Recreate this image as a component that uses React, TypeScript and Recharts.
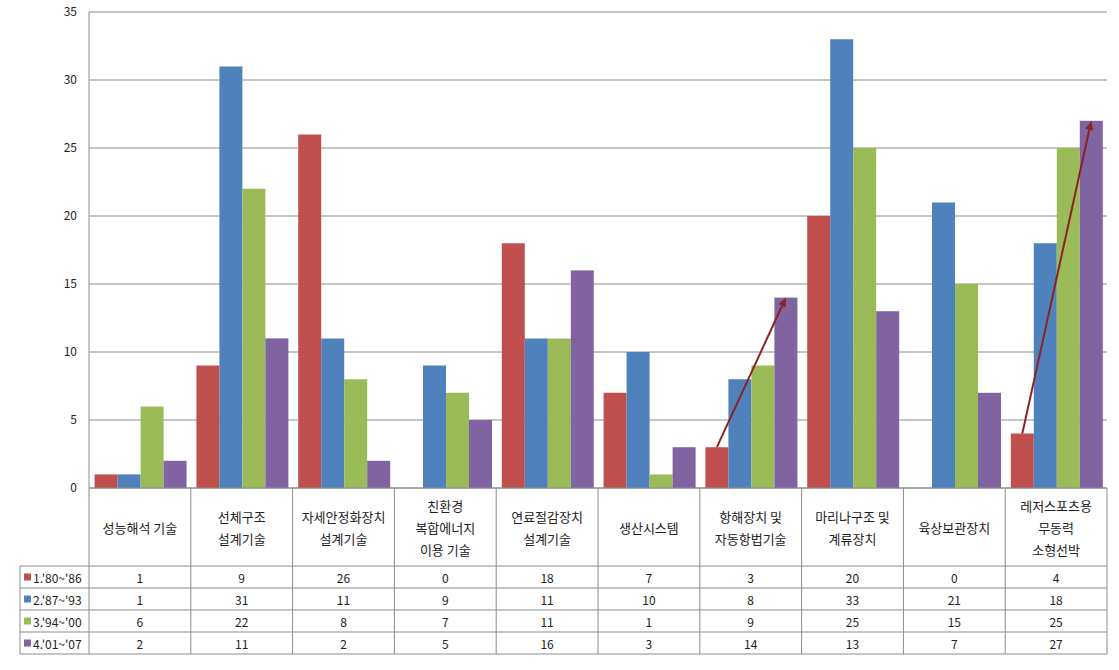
import { BarChart, Bar, XAxis, YAxis, CartesianGrid } from 'recharts';

const CATEGORIES = [
  '성능해석 기술',
  '선체구조\n설계기술',
  '자세안정화장치\n설계기술',
  '친환경\n복합에너지\n이용 기술',
  '연료절감장치\n설계기술',
  '생산시스템',
  '항해장치 및\n자동항법기술',
  '마리나구조 및\n계류장치',
  '육상보관장치',
  '레저스포츠용\n무동력\n소형선박',
];

const SERIES_NAMES = ["1.'80~'86", "2.'87~'93", "3.'94~'00", "4.'01~'07"];
const PERIOD_1 = [1, 9, 26, 0, 18, 7, 3, 20, 0, 4];
const PERIOD_2 = [1, 31, 11, 9, 11, 10, 8, 33, 21, 18];
const PERIOD_3 = [6, 22, 8, 7, 11, 1, 9, 25, 15, 25];
const PERIOD_4 = [2, 11, 2, 5, 16, 3, 14, 13, 7, 27];
const Y_TICKS = [0, 5, 10, 15, 20, 25, 30, 35];
// categories where an arrow runs from the first period bar to the last one
const ARROW_CATEGORIES = [6, 9];

const KEYS = ['p1', 'p2', 'p3', 'p4'];
const COLORS = ['#C0504D', '#4F81BD', '#9BBB59', '#8064A2'];
const SERIES_VALUES = [PERIOD_1, PERIOD_2, PERIOD_3, PERIOD_4];

const data = CATEGORIES.map((name, i) => ({
  name,
  p1: PERIOD_1[i],
  p2: PERIOD_2[i],
  p3: PERIOD_3[i],
  p4: PERIOD_4[i],
}));

const W = 1119;
const H = 670;
const MARGIN = { top: 12, right: 12, left: 0, bottom: 16 };
const Y_WIDTH = 89;
const PLOT_W = W - MARGIN.left - MARGIN.right - Y_WIDTH;
const LABEL_H = 78;
const ROW_H = 22;
const LEGEND_LEFT = 20;
const BORDER = '#8c8c8c';
const FONT = '"Noto Sans CJK KR", "Noto Sans", sans-serif';

const TableTick = (props: any) => {
  const { x, y, payload } = props;
  const i = CATEGORIES.indexOf(payload.value);
  const band = PLOT_W / CATEGORIES.length;
  const left = x - band / 2;
  const right = x + band / 2;
  const lines = String(payload.value).split('\n');
  const mid = y + LABEL_H / 2;
  const rowsTop = y + LABEL_H;
  const bottom = rowsTop + ROW_H * SERIES_NAMES.length;

  return (
    <g fontFamily={FONT}>
      <line x1={right} y1={y} x2={right} y2={bottom} stroke={BORDER} />
      {i === 0 && <line x1={left} y1={y} x2={left} y2={bottom} stroke={BORDER} />}
      {lines.map((t, k) => (
        <text
          key={k}
          x={x}
          y={mid + (k - (lines.length - 1) / 2) * 22}
          textAnchor="middle"
          dominantBaseline="central"
          fontSize={13}
          fill="#222"
        >
          {t}
        </text>
      ))}
      {SERIES_NAMES.map((_, r) => (
        <g key={r}>
          <line x1={left} y1={rowsTop + r * ROW_H} x2={right} y2={rowsTop + r * ROW_H} stroke={BORDER} />
          <text
            x={x}
            y={rowsTop + r * ROW_H + ROW_H / 2}
            textAnchor="middle"
            dominantBaseline="central"
            fontSize={12}
            fill="#222"
          >
            {SERIES_VALUES[r][i]}
          </text>
        </g>
      ))}
      <line x1={left} y1={bottom} x2={right} y2={bottom} stroke={BORDER} />
      {i === 0 && (
        <g>
          <line x1={LEGEND_LEFT} y1={rowsTop} x2={LEGEND_LEFT} y2={bottom} stroke={BORDER} />
          {SERIES_NAMES.map((name, r) => (
            <g key={name}>
              <line x1={LEGEND_LEFT} y1={rowsTop + r * ROW_H} x2={left} y2={rowsTop + r * ROW_H} stroke={BORDER} />
              <rect x={LEGEND_LEFT + 4} y={rowsTop + r * ROW_H + ROW_H / 2 - 3.5} width={7} height={7} fill={COLORS[r]} />
              <text
                x={LEGEND_LEFT + 13}
                y={rowsTop + r * ROW_H + ROW_H / 2}
                dominantBaseline="central"
                fontSize={12}
                fill="#222"
              >
                {name}
              </text>
            </g>
          ))}
          <line x1={LEGEND_LEFT} y1={bottom} x2={left} y2={bottom} stroke={BORDER} />
        </g>
      )}
    </g>
  );
};

// last period bar; also draws the trend arrow from the first period bar top
const ArrowBar = (props: any) => {
  const { x, y, width, height, fill, payload } = props;
  const idx = CATEGORIES.indexOf(payload.name);
  const rect = <rect x={x} y={y} width={width} height={height} fill={fill} />;
  if (!ARROW_CATEGORIES.includes(idx) || !height) return rect;
  const unit = height / payload.p4;
  const base = y + height;
  const x0 = x - 3 * width + width / 2;
  const y0 = base - payload.p1 * unit;
  const x1 = x + width / 2;
  const y1 = y;
  const ang = Math.atan2(y1 - y0, x1 - x0);
  const c = Math.cos(ang);
  const s = Math.sin(ang);
  const bx = x1 - 9 * c;
  const by = y1 - 9 * s;
  const pts = `${x1},${y1} ${bx + 4 * s},${by - 4 * c} ${bx - 4 * s},${by + 4 * c}`;
  return (
    <g>
      {rect}
      <line x1={x0} y1={y0} x2={bx} y2={by} stroke="#8B2323" strokeWidth={2} />
      <polygon points={pts} fill="#8B2323" />
    </g>
  );
};

export default function App() {
  return (
    <div style={{ position: 'absolute', left: 0, top: 0, width: W, height: H, background: '#fff' }}>
      <BarChart width={W} height={H} data={data} margin={MARGIN} barCategoryGap="5.5%" barGap={0}>
        <CartesianGrid vertical={false} stroke={BORDER} />
        <YAxis
          width={Y_WIDTH}
          domain={[0, 35]}
          ticks={Y_TICKS}
          interval={0}
          tickLine={false}
          tickMargin={6}
          axisLine={{ stroke: BORDER }}
          tick={{ fontSize: 12, fill: '#222', fontFamily: FONT }}
        />
        <XAxis
          dataKey="name"
          height={LABEL_H + ROW_H * SERIES_NAMES.length}
          interval={0}
          tickLine={false}
          tickSize={0}
          tickMargin={0}
          axisLine={{ stroke: BORDER }}
          tick={<TableTick />}
        />
        {KEYS.map((k, i) => (
          <Bar
            key={k}
            dataKey={k}
            name={SERIES_NAMES[i]}
            fill={COLORS[i]}
            isAnimationActive={false}
            shape={i === 3 ? <ArrowBar /> : undefined}
          />
        ))}
      </BarChart>
    </div>
  );
}
